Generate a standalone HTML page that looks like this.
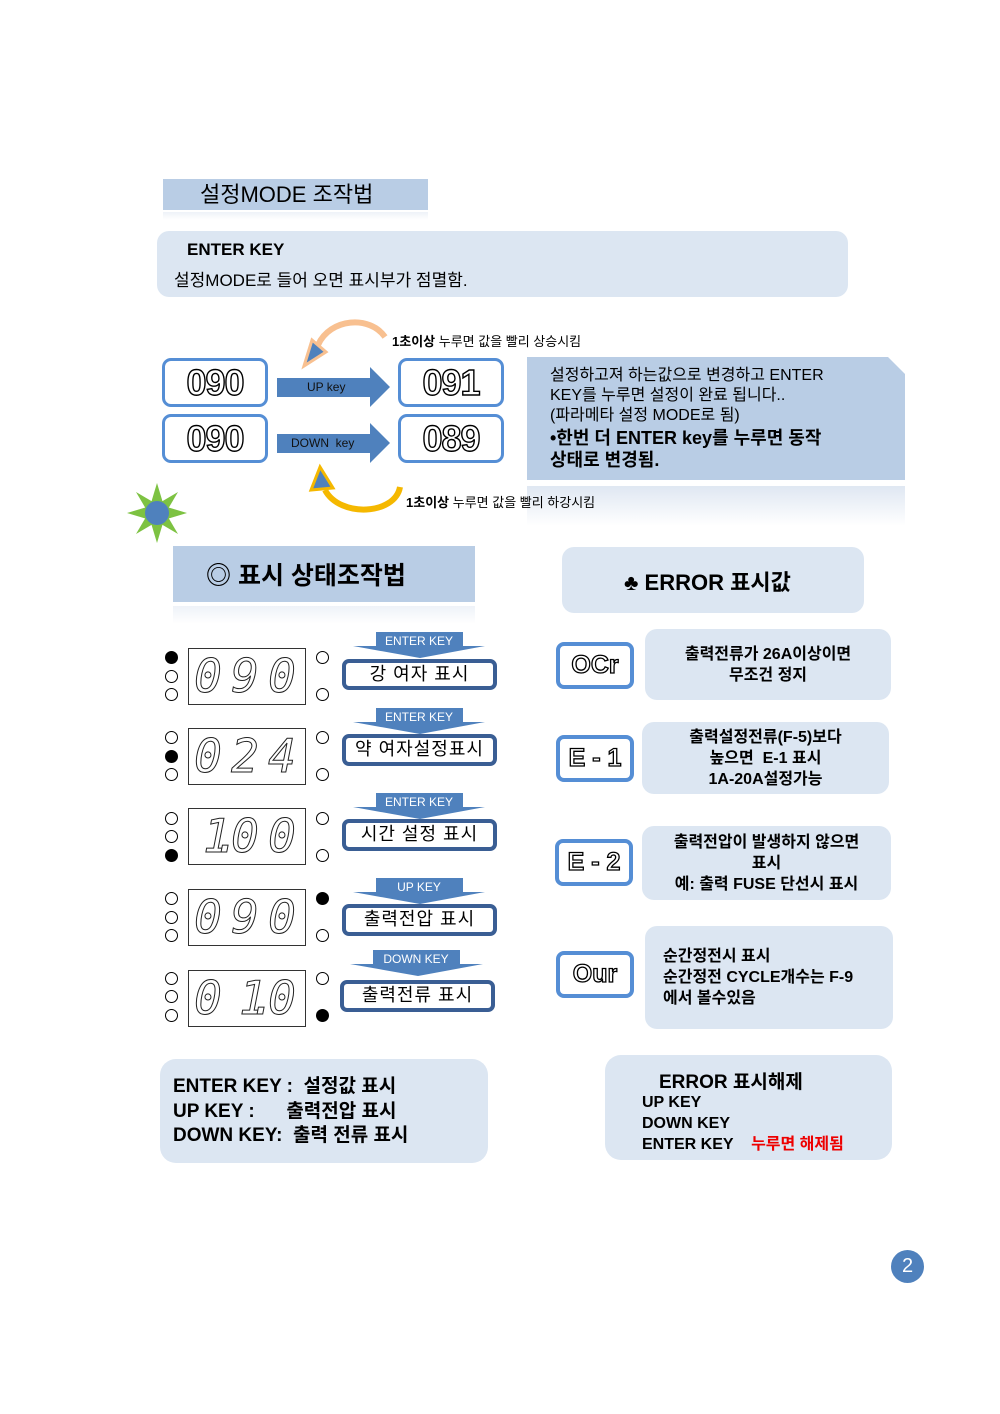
<!DOCTYPE html>
<html><head><meta charset="utf-8"><style>
body{margin:0;width:1000px;height:1414px;background:#fff;position:relative;overflow:hidden;font-family:"Liberation Sans","Noto Sans CJK KR",sans-serif;color:#000}
.a{position:absolute;box-sizing:border-box}
.lb{background:#dce6f2;border-radius:12px}
.hb{background:#b9cde5}
.disp{border:3px solid #558ed5;border-radius:9px;background:#fff;text-align:center;font-family:"Liberation Sans",sans-serif;font-weight:bold;color:#fff;-webkit-text-stroke:1.4px #000;font-size:36px;line-height:43px;letter-spacing:-1px}
.lcd{border:1.5px solid #333;background:#fff;overflow:hidden}
.lcd span{position:absolute;top:0;width:28px;text-align:center;font-family:"DejaVu Sans Mono",monospace;font-style:italic;color:#fff;-webkit-text-stroke:1px #222;font-size:46px;line-height:54px}
.c{width:13px;height:13px;border:1.5px solid #000;border-radius:50%;background:#fff}
.f{background:#000}
.lab{border:4px solid #3a5e94;border-radius:7px;background:#fff;text-align:center;font-size:18px;line-height:22px;letter-spacing:1px}
.err{border:4px solid #558ed5;border-radius:8px;background:#fff;text-align:center;font-family:"Liberation Sans",sans-serif;font-weight:bold;color:#fff;-webkit-text-stroke:1.3px #000;font-size:25px;line-height:38px}
.desc{background:#dce6f2;border-radius:12px;font-weight:bold;font-size:16px;line-height:21px;text-align:center;display:flex;flex-direction:column;justify-content:center}
</style></head><body>

<div class="a hb" style="left:163px;top:179px;width:265px;height:31px;"></div>
<div class="a" style="left:163px;top:212px;width:265px;height:8px;background:linear-gradient(#eef2f8,#fff)"></div>
<div class="a" style="left:200px;top:179px;font-size:22px;line-height:31px;">설정MODE 조작법</div>

<div class="a lb" style="left:157px;top:231px;width:691px;height:66px;"></div>
<div class="a" style="left:187px;top:240px;font-size:17px;font-weight:bold;">ENTER KEY</div>
<div class="a" style="left:174px;top:266px;font-size:17px;">설정MODE로 들어 오면 표시부가 점멸함.</div>

<div class="a disp" style="left:162px;top:358px;width:106px;height:49px;">090</div>
<div class="a disp" style="left:162px;top:414px;width:106px;height:49px;">090</div>
<div class="a disp" style="left:398px;top:358px;width:106px;height:49px;">091</div>
<div class="a disp" style="left:398px;top:414px;width:106px;height:49px;">089</div>

<svg class="a" style="left:0;top:0" width="1000" height="560">
 <defs><linearGradient id="g" x1="0" y1="0" x2="0" y2="1"><stop offset="0" stop-color="#dfe7f2"/><stop offset="1" stop-color="#fff"/></linearGradient></defs>
 <polygon points="277,378 370,378 370,367 390,387 370,407 370,397 277,397" fill="#4f81bd"/>
 <polygon points="277,434 370,434 370,423 390,443 370,463 370,453 277,453" fill="#4f81bd"/>
 <path d="M385,337 C370,315 330,318 318,345" stroke="#f8c090" stroke-width="6" fill="none"/>
 <polygon points="304,366 312,340 326,352" fill="#4f81bd" stroke="#f8c090" stroke-width="3"/>
 <path d="M400,487 C395,515 340,518 325,490" stroke="#f5b800" stroke-width="6" fill="none"/>
 <polygon points="320,467 311,490 333,488" fill="#4f81bd" stroke="#f5b800" stroke-width="3"/>
 <polygon points="527,357 888,357 905,374 905,480 527,480" fill="#b9cde5"/>
 <rect x="527" y="486" width="378" height="40" fill="url(#g)"/>
 <g transform="translate(157,513)" fill="#7dc242">
  <polygon points="0,-30 6,-10 -6,-10"/><polygon points="0,30 6,10 -6,10"/>
  <polygon points="-30,0 -10,6 -10,-6"/><polygon points="30,0 10,6 10,-6"/>
  <polygon points="21,-21 4,-11 11,-4"/><polygon points="-21,21 -4,11 -11,4"/>
  <polygon points="-21,-21 -4,-11 -11,-4"/><polygon points="21,21 4,11 11,4"/>
  <circle r="12" fill="#4f81bd"/>
 </g>
</svg>
<div class="a" style="left:392px;top:331px;font-size:13px;"><b>1초이상</b> 누루면 값을 빨리 상승시킴</div>
<div class="a" style="left:307px;top:380px;font-size:12px;color:#111;">UP key</div>
<div class="a" style="left:291px;top:436px;font-size:12px;color:#111;">DOWN &nbsp;key</div>
<div class="a" style="left:406px;top:492px;font-size:13px;"><b>1초이상</b> 누루면 값을 빨리 하강시킴</div>
<div class="a" style="left:550px;top:366px;font-size:16px;line-height:20px;">설정하고져 하는값으로 변경하고 ENTER<br>KEY를 누루면 설정이 완료 됩니다..<br>(파라메타 설정 MODE로 됨)</div>
<div class="a" style="left:550px;top:427px;font-size:18px;line-height:22px;font-weight:bold;">•한번 더 ENTER key를 누루면 동작<br>상태로 변경됨.</div>

<div class="a hb" style="left:173px;top:546px;width:302px;height:56px;"></div>
<div class="a" style="left:173px;top:606px;width:302px;height:18px;background:linear-gradient(#eef2f8,#fff)"></div>
<div class="a" style="left:206px;top:556px;font-size:25px;font-weight:bold;">◎ 표시 상태조작법</div>

<div class="a lb" style="left:562px;top:547px;width:302px;height:66px;"></div>
<div class="a" style="left:624px;top:565px;font-size:22px;font-weight:bold;">♣ ERROR 표시값</div>

<div class="a lcd" style="left:188px;top:648px;width:118px;height:57px;"><span style="left:5px">0</span><span style="left:42px">9</span><span style="left:79px">0</span></div>
<div class="a lcd" style="left:188px;top:728px;width:118px;height:57px;"><span style="left:5px">0</span><span style="left:42px">2</span><span style="left:79px">4</span></div>
<div class="a lcd" style="left:188px;top:808px;width:118px;height:57px;"><span style="left:14px">1</span><span style="left:24px">.</span><span style="left:42px">0</span><span style="left:79px">0</span></div>
<div class="a lcd" style="left:188px;top:889px;width:118px;height:57px;"><span style="left:5px">0</span><span style="left:42px">9</span><span style="left:79px">0</span></div>
<div class="a lcd" style="left:188px;top:970px;width:118px;height:57px;"><span style="left:5px">0</span><span style="left:50px">1</span><span style="left:60px">.</span><span style="left:79px">0</span></div>

<div class="a c f" style="left:165px;top:651px"></div><div class="a c" style="left:165px;top:670px"></div><div class="a c" style="left:165px;top:688px"></div>
<div class="a c" style="left:316px;top:651px"></div><div class="a c" style="left:316px;top:688px"></div>
<div class="a c" style="left:165px;top:731px"></div><div class="a c f" style="left:165px;top:750px"></div><div class="a c" style="left:165px;top:768px"></div>
<div class="a c" style="left:316px;top:731px"></div><div class="a c" style="left:316px;top:768px"></div>
<div class="a c" style="left:165px;top:812px"></div><div class="a c" style="left:165px;top:830px"></div><div class="a c f" style="left:165px;top:849px"></div>
<div class="a c" style="left:316px;top:812px"></div><div class="a c" style="left:316px;top:849px"></div>
<div class="a c" style="left:165px;top:892px"></div><div class="a c" style="left:165px;top:911px"></div><div class="a c" style="left:165px;top:929px"></div>
<div class="a c f" style="left:316px;top:892px"></div><div class="a c" style="left:316px;top:929px"></div>
<div class="a c" style="left:165px;top:972px"></div><div class="a c" style="left:165px;top:990px"></div><div class="a c" style="left:165px;top:1009px"></div>
<div class="a c" style="left:316px;top:972px"></div><div class="a c f" style="left:316px;top:1009px"></div>

<svg class="a" style="left:0;top:620px" width="520" height="420">
 <g fill="#4f81bd">
  <polygon points="376,12 463,12 463,26 485,26 420,38 353,26 376,26"/>
  <polygon points="376,88 463,88 463,102 485,102 420,114 353,102 376,102"/>
  <polygon points="376,173 463,173 463,187 485,187 420,199 353,187 376,187"/>
  <polygon points="376,258 463,258 463,272 485,272 420,284 353,272 376,272"/>
  <polygon points="373,330 460,330 460,344 483,344 418,356 350,344 373,344"/>
 </g>
</svg>
<div class="a" style="left:353px;top:634px;width:132px;text-align:center;font-size:12px;color:#fff;">ENTER KEY</div>
<div class="a" style="left:353px;top:710px;width:132px;text-align:center;font-size:12px;color:#fff;">ENTER KEY</div>
<div class="a" style="left:353px;top:795px;width:132px;text-align:center;font-size:12px;color:#fff;">ENTER KEY</div>
<div class="a" style="left:353px;top:880px;width:132px;text-align:center;font-size:12px;color:#fff;">UP KEY</div>
<div class="a" style="left:350px;top:952px;width:132px;text-align:center;font-size:12px;color:#fff;">DOWN KEY</div>

<div class="a lab" style="left:342px;top:659px;width:155px;height:31px;">강 여자 표시</div>
<div class="a lab" style="left:342px;top:734px;width:155px;height:32px;">약 여자설정표시</div>
<div class="a lab" style="left:342px;top:819px;width:155px;height:32px;">시간 설정 표시</div>
<div class="a lab" style="left:342px;top:904px;width:155px;height:32px;">출력전압 표시</div>
<div class="a lab" style="left:340px;top:980px;width:155px;height:32px;">출력전류 표시</div>

<div class="a err" style="left:556px;top:642px;width:78px;height:47px;">OCr</div>
<div class="a err" style="left:556px;top:735px;width:78px;height:47px;">E - 1</div>
<div class="a err" style="left:555px;top:839px;width:78px;height:47px;">E - 2</div>
<div class="a err" style="left:556px;top:951px;width:78px;height:47px;">Our</div>

<div class="a desc" style="left:645px;top:629px;width:246px;height:71px;">출력전류가 26A이상이면<br>무조건 정지</div>
<div class="a desc" style="left:642px;top:722px;width:247px;height:72px;">출력설정전류(F-5)보다<br>높으면 &nbsp;E-1 표시<br>1A-20A설정가능</div>
<div class="a desc" style="left:642px;top:826px;width:249px;height:74px;">출력전압이 발생하지 않으면<br>표시<br>예: 출력 FUSE 단선시 표시</div>
<div class="a desc" style="left:645px;top:926px;width:248px;height:103px;text-align:left;padding-left:18px;">순간정전시 표시<br>순간정전 CYCLE개수는 F-9<br>에서 볼수있음</div>

<div class="a lb" style="left:160px;top:1059px;width:328px;height:104px;border-radius:16px"></div>
<div class="a" style="left:173px;top:1075px;font-size:19px;line-height:24.5px;font-weight:bold;white-space:pre;">ENTER KEY :  설정값 표시
UP KEY :      출력전압 표시
DOWN KEY:  출력 전류 표시</div>

<div class="a lb" style="left:605px;top:1055px;width:287px;height:105px;border-radius:16px"></div>
<div class="a" style="left:659px;top:1067px;font-size:19px;font-weight:bold;">ERROR 표시해제</div>
<div class="a" style="left:642px;top:1092px;font-size:16px;line-height:21px;font-weight:bold;">UP KEY<br>DOWN KEY<br>ENTER KEY &nbsp;&nbsp;&nbsp;<span style="color:#e00">누루면 해제됨</span></div>

<div class="a" style="left:891px;top:1250px;width:33px;height:33px;border-radius:50%;background:#4f81bd;color:#fff;text-align:center;font-size:20px;line-height:33px;">2</div>
</body></html>
